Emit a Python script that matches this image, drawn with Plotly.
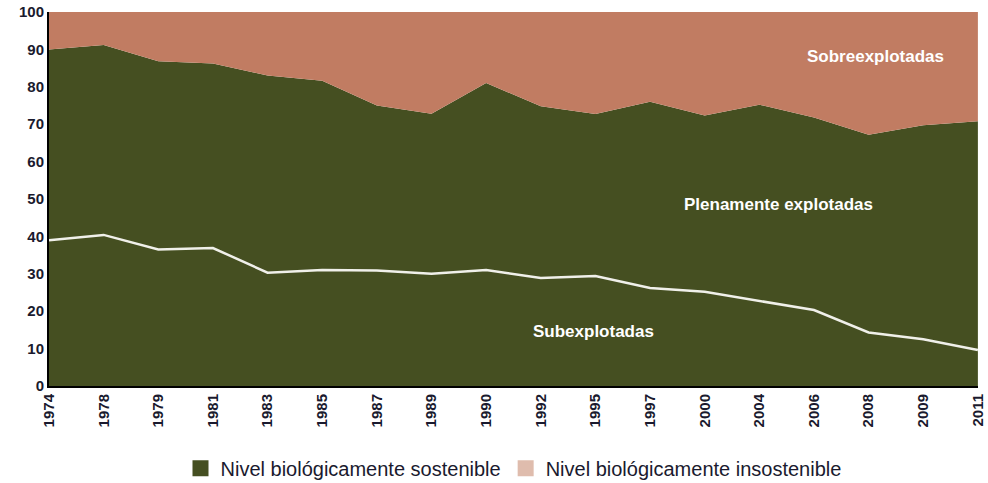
import plotly.graph_objects as go

# years (categorical, equally spaced)
years = ["1974", "1978", "1979", "1981", "1983", "1985", "1987", "1989", "1990",
         "1992", "1995", "1997", "2000", "2004", "2006", "2008", "2009", "2011"]

# % of stocks within biologically sustainable levels (sub + fully exploited)
sostenible = [90, 91.2, 86.8, 86.2, 83, 81.6, 75, 72.8, 81, 74.8, 72.7, 76, 72.3, 75.2, 71.8, 67.2, 69.7, 70.8]
# % of underexploited stocks
subexplotadas = [39, 40.4, 36.5, 36.9, 30.3, 31, 30.9, 30, 31, 28.9, 29.4, 26.2, 25.2, 22.8, 20.3, 14.3, 12.5, 9.6]
total = [100] * len(years)

green = "#454f21"
brown = "#c17c62"
pink = "#dfbcad"
ink = "#1a1a2e"
FONT = "Liberation Sans, Arial"

fig = go.Figure()

fig.add_trace(go.Scatter(
    x=years, y=sostenible, mode="lines", line=dict(width=0, color=green),
    fill="tozeroy", fillcolor=green, showlegend=False, hoverinfo="skip"))
fig.add_trace(go.Scatter(
    x=years, y=total, mode="lines", line=dict(width=0, color=brown),
    fill="tonexty", fillcolor=brown, showlegend=False, hoverinfo="skip"))
fig.add_trace(go.Scatter(
    x=years, y=subexplotadas, mode="lines", line=dict(width=2.5, color="#f0f0ea"),
    showlegend=False))

# legend entries
fig.add_trace(go.Scatter(
    x=[None], y=[None], mode="markers", name="Nivel biológicamente sostenible",
    marker=dict(symbol="square", size=17, color=green)))
fig.add_trace(go.Scatter(
    x=[None], y=[None], mode="markers", name="Nivel biológicamente insostenible",
    marker=dict(symbol="square", size=17, color=pink)))

lab = dict(family=FONT, size=17, color="white")
fig.add_annotation(x=15.13, y=88, text="<b>Sobreexplotadas</b>", showarrow=False, font=lab)
fig.add_annotation(x=13.35, y=48.4, text="<b>Plenamente explotadas</b>", showarrow=False, font=lab)
fig.add_annotation(x=9.96, y=14.6, text="<b>Subexplotadas</b>", showarrow=False, font=lab)

fig.update_layout(
    width=988, height=483,
    margin=dict(l=49, r=10, t=12, b=97, autoexpand=False),
    plot_bgcolor="white", paper_bgcolor="white",
    font=dict(family=FONT, color=ink),
    showlegend=True,
    legend=dict(orientation="h", x=0.5, xanchor="center", y=-0.22, yanchor="middle",
                traceorder="normal", font=dict(size=20, color=ink),
                itemwidth=30, tracegroupgap=0),
    xaxis=dict(type="category", range=[0, len(years) - 1 + 0.002], tickangle=-90,
               showgrid=False, zeroline=False, showline=True, linecolor="black",
               linewidth=2, ticks="", automargin=False, ticklabeloverflow="allow",
               tickfont=dict(size=15)),
    yaxis=dict(range=[0, 100], dtick=10, showgrid=False, zeroline=False,
               showline=True, linecolor="black", linewidth=2, ticks="",
               automargin=False, ticklabeloverflow="allow", tickfont=dict(size=15)),
)
fig.update_xaxes(tickprefix="<b>", ticksuffix="</b>")
fig.update_yaxes(tickprefix="<b>", ticksuffix="</b>")

# drop the default body margin so the figure sits at the window's corner
fig.write_html("out.html", config={"displayModeBar": False},
               post_script="document.body.style.margin='0';")
